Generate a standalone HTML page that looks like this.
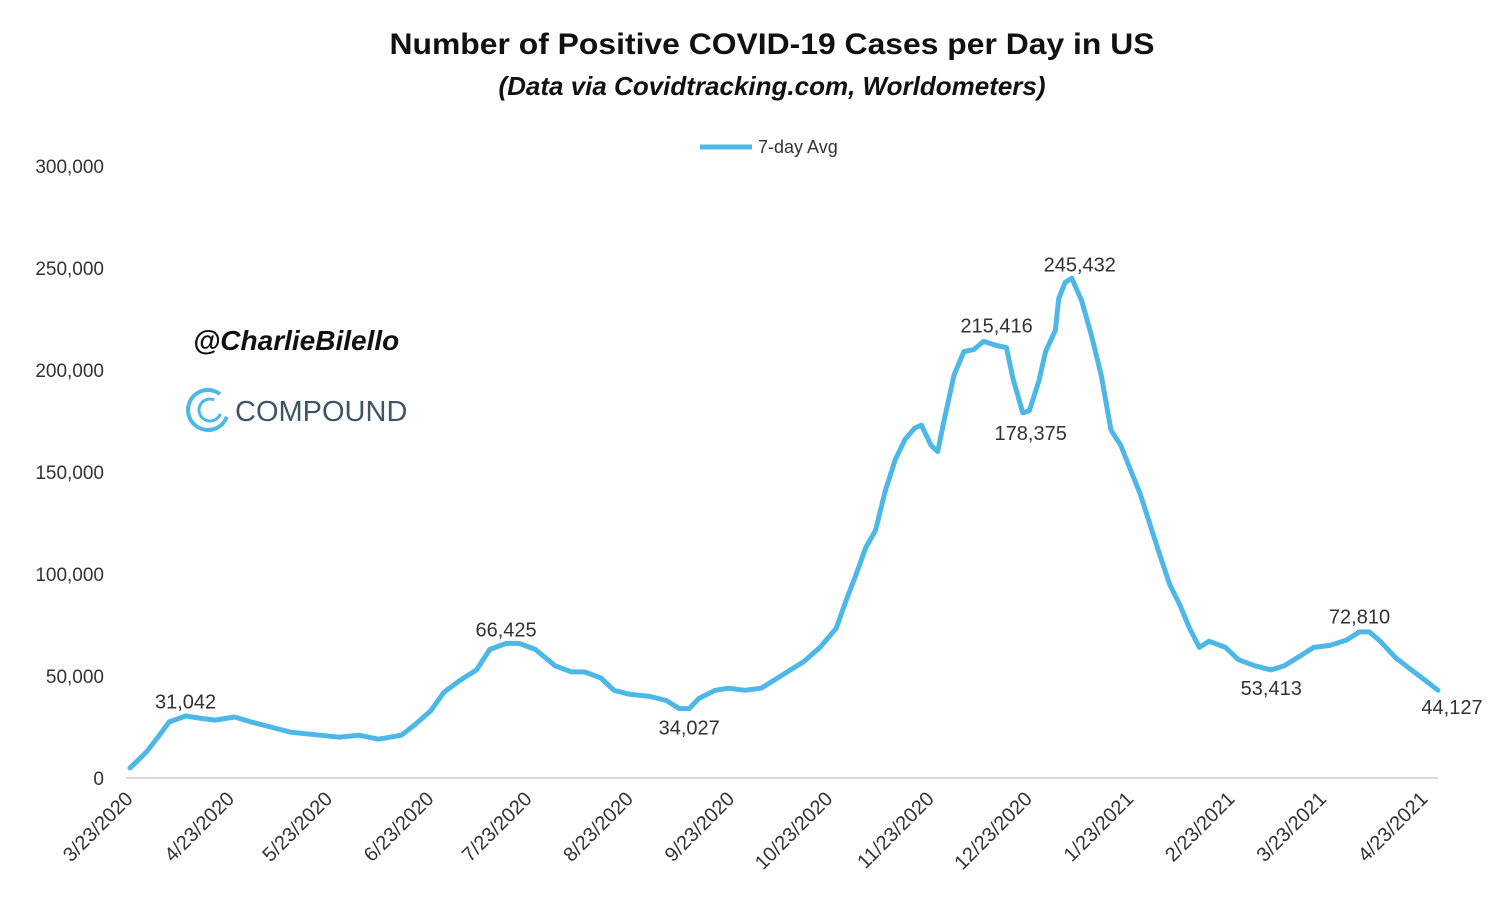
<!DOCTYPE html>
<html><head><meta charset="utf-8"><style>
body{margin:0;background:#fff;width:1504px;height:912px;overflow:hidden;font-family:"Liberation Sans",sans-serif}
</style></head><body>
<svg id="c" width="1504" height="912" xmlns="http://www.w3.org/2000/svg">
<text x="772" y="54" text-anchor="middle" font-size="30" font-weight="bold" fill="#111" textLength="765" lengthAdjust="spacingAndGlyphs">Number of Positive COVID-19 Cases per Day in US</text>
<text x="772" y="95" text-anchor="middle" font-size="26" font-weight="bold" font-style="italic" fill="#111">(Data via Covidtracking.com, Worldometers)</text>
<g>
<line x1="700" y1="147" x2="752" y2="147" stroke="#4db8e8" stroke-width="5"/>
<text x="758" y="153" font-size="18" fill="#333">7-day Avg</text>
</g>
<text x="193" y="350" font-size="28" font-weight="bold" font-style="italic" fill="#111">@CharlieBilello</text>
<g>
<circle cx="208" cy="410" r="20" fill="none" stroke="#4db8e8" stroke-width="4" stroke-dasharray="100 26" transform="rotate(20 208 410)"/>
<circle cx="210" cy="410" r="11" fill="none" stroke="#4db8e8" stroke-width="3" stroke-dasharray="52 17" transform="rotate(20 210 410)"/>
<text x="235" y="421" font-size="29" fill="#3d5566">COMPOUND</text>
</g>
<g id="yax"></g><g id="xax"></g><g id="plot"></g><g id="ann"></g>
</svg>
<script>
const days=[0,5,9,12,17,21,26,32,37,43,49,58,64,70,76,83,87,92,96,101,106,110,115,119,124,130,135,139,144,148,153,159,164,168,171,174,179,183,188,193,197,202,206,211,216,219,222,225,228,231,234,237,240,242,245,247,249,252,255,258,261,265,268,270,273,275,278,280,283,284,286,288,291,294,297,300,303,306,309,312,315,318,321,324,327,330,335,339,344,349,353,358,362,367,372,376,379,382,387,391,396,400];
const values=[4900,12700,21000,27500,30400,29400,28400,29900,27500,25000,22500,21000,20000,21000,19000,21000,26000,33000,42000,48000,53000,63000,66000,66000,63000,55000,52000,52000,49000,43000,41000,40000,38000,34000,34000,39000,43000,44000,43000,44000,48000,53000,57000,64000,73500,87000,99500,113000,121500,141000,156000,166000,171500,173000,163000,160000,175500,197500,209000,210000,214000,212000,211000,196000,179000,180000,195000,209000,219500,235000,243000,245000,234000,217000,197500,170500,163000,151000,139000,124000,109000,94600,85000,73500,64000,67000,64000,58000,55000,53000,55000,60000,64000,65000,67600,71600,71600,67600,59000,54000,48000,43000];
const yTicks=[0,50000,100000,150000,200000,250000,300000];
const xTickLabels=["3/23/2020","4/23/2020","5/23/2020","6/23/2020","7/23/2020","8/23/2020","9/23/2020","10/23/2020","11/23/2020","12/23/2020","1/23/2021","2/23/2021","3/23/2021","4/23/2021"];
const xTickDays=[0,31,61,92,122,153,184,214,245,275,306,337,365,396];
const annText=["31,042","66,425","34,027","215,416","178,375","245,432","53,413","72,810","44,127"];
const annDay=[17,115,171,265,273,288,349,376,400];
const annValue=[31042,66425,34027,215416,178375,245432,53413,72810,44127];
const annAbove=[1,1,0,1,0,1,0,1,0];
const NS="http://www.w3.org/2000/svg";
const X=d=>130+d*3.27, Y=v=>778-v*612/300000;
function mk(t,p,a){const e=document.createElementNS(NS,t);for(const k in a)e.setAttribute(k,a[k]);p.appendChild(e);return e;}
const yax=document.getElementById('yax'),xax=document.getElementById('xax'),plot=document.getElementById('plot'),ann=document.getElementById('ann');
yTicks.forEach(v=>{const t=mk('text',yax,{x:104,y:Y(v)+7,'text-anchor':'end','font-size':19,fill:'#333'});


t.textContent=v.toLocaleString('en-US');});
const base=mk('line',xax,{x1:126,y1:778,x2:1438,y2:778,stroke:'#d9d9d9','stroke-width':2});


xTickLabels.forEach((s,i)=>{const x=X(xTickDays[i])+4,y=800;const t=mk('text',xax,{x:x,y:y,'text-anchor':'end','font-size':20,fill:'#333',transform:`rotate(-45 ${x} ${y})`});


t.textContent=s;});
const p=mk('path',plot,{d:days.map((d,i)=>(i?'L':'M')+X(d).toFixed(1)+','+Y(values[i]).toFixed(1)).join(''),fill:'none',stroke:'#4db8e8','stroke-width':5,'stroke-linejoin':'round','stroke-linecap':'round'});


annText.forEach((s,i)=>{const x=X(annDay[i])+(i==8?14:i==5?8:i==4?8:0),y=Y(annValue[i])+(annAbove[i]?-6:26);const t=mk('text',ann,{x:x,y:y,'text-anchor':'middle','font-size':20,fill:'#333'});


t.textContent=s;});
</script>
</body></html>
